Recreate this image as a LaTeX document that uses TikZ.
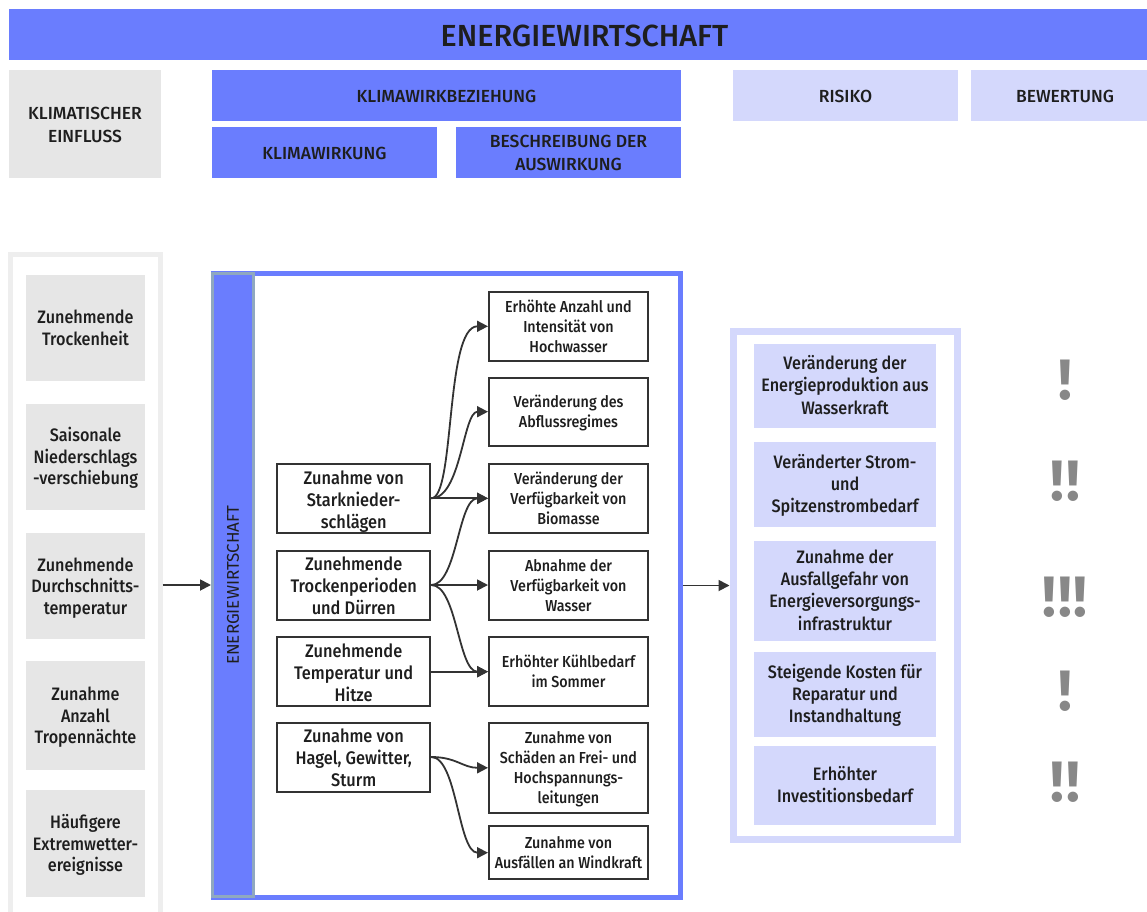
\documentclass[tikz,border=0pt]{standalone}
\usepackage{fontspec}
\setmainfont{Fira Sans}[UprightFont=* Medium, BoldFont=* Bold]
\newfontfamily\plainfont{Fira Sans}
\newfontfamily\bodyfont{Fira Sans}[UprightFont=* Medium, FakeStretch=0.9]
\usetikzlibrary{arrows.meta}

\definecolor{mainblue}{HTML}{6A7DFE}
\definecolor{lilac}{HTML}{D4D8FC}
\definecolor{softgray}{HTML}{E6E6E6}
\definecolor{rimgray}{HTML}{EEEEEE}
\definecolor{bargray}{HTML}{8FA8C0}
\definecolor{ink}{HTML}{1E1E1E}
\definecolor{wire}{HTML}{333333}
\definecolor{markgray}{HTML}{888888}

\newcommand{\fsz}[2]{\fontsize{#1}{#2}\selectfont}

\tikzset{
  every node/.style={text=ink, align=center, inner sep=0pt},
  % line boxes: lead = line pitch, lift = share of a line above its baseline
  lead/.store in=\lead, lift/.store in=\lift, lead=22, lift=.8,
  rows/.style={text height={(#1-1+\lift)*\lead*1pt}, text depth={(1-\lift)*\lead*1pt}},
  headbox/.style={fill=mainblue, minimum height=51, font=\fsz{17.5}{23}, lead=23, lift=.8},
  riskhead/.style={fill=lilac, minimum height=51, font=\fsz{17.5}{23}, lead=23, lift=.8},
  climbox/.style={fill=softgray, minimum width=119, minimum height=106, font=\bodyfont\fsz{18}{21.5}, lead=21.5, lift=.81},
  causebox/.style={draw=wire, line width=2, fill=white, minimum width=153, minimum height=69, font=\bodyfont\fsz{18.2}{22}, lead=22, lift=.86},
  effectbox/.style={draw=wire, line width=2, fill=white, minimum width=159, minimum height=69, font=\bodyfont\fsz{15.9}{20}, lead=20, lift=.8},
  riskbox/.style={fill=lilac, minimum width=182, font=\bodyfont\fsz{18}{22.2}, lead=22.2, lift=.77},
  rating/.style={text=markgray, font=\bfseries\fsz{57}{57}},
  arr/.style={draw=wire, line width=1.8, -{Triangle[length=11pt,width=11pt]}},
}

\begin{document}
\begin{tikzpicture}[x=1pt,y=-1pt]
\clip (0,0) rectangle (1147,911);
\fill[white] (0,0) rectangle (1147,911);

% title bar and column headers
\node[fill=mainblue, minimum width=1151, minimum height=51, text height=24.4, text depth=0, font=\fsz{30.5}{31}] (title) at (584.5,34.5) {ENERGIEWIRTSCHAFT};
\node[fill=softgray, minimum width=152, minimum height=108, font=\fsz{17.5}{23}, lead=23, lift=.8, rows=2] (hclim) at (85,124) {KLIMATISCHER\\EINFLUSS};
\node[headbox, rows=1, minimum width=469] (hrel) at (446.5,95.5) {KLIMAWIRKBEZIEHUNG};
\node[headbox, rows=1, minimum width=225] (hwirk) at (324.5,152.5) {KLIMAWIRKUNG};
\node[headbox, rows=2, minimum width=225] (hbesch) at (568.5,152.5) {BESCHREIBUNG DER\\AUSWIRKUNG};
\node[riskhead, rows=1, minimum width=225] (hrisk) at (845.5,95.5) {RISIKO};
\node[riskhead, rows=1, minimum width=188] (hbew) at (1065,95.5) {BEWERTUNG};

% climatic influences
\node[draw=rimgray, line width=5, fill=white, minimum width=150, minimum height=700] (leftcol) at (85,604) {};
\node[climbox, rows=2] (g1) at (85.5,328) {Zunehmende\\Trockenheit};
\node[climbox, rows=3] (g2) at (85.5,456.5) {Saisonale\\Niederschlags\\-verschiebung};
\node[climbox, rows=3] (g3) at (85.5,586.3) {Zunehmende\\Durchschnitts-\\temperatur};
\node[climbox, rows=3, minimum height=109] (g4) at (85.5,715.5) {Zunahme\\Anzahl\\Tropennächte};
\node[climbox, rows=3, minimum height=107] (g5) at (85.5,843.5) {Häufigere\\Extremwetter-\\ereignisse};

% sector frame
\node[draw=mainblue, line width=5, fill=white, minimum width=467, minimum height=624] (frame) at (447,585.5) {};
\node[draw=bargray, line width=3, fill=mainblue, minimum width=41, minimum height=623] (bar) at (233,585) {};
\node[rotate=90, font=\plainfont\fsz{17}{17}] (bartext) at (bar.center) {ENERGIEWIRTSCHAFT};

% climate effects
\node[causebox, rows=3] (c1) at (353.7,498.3) {Zunahme von\\Starknieder-\\schlägen};
\node[causebox, rows=3] (c2) at (353.7,585) {Zunehmende\\Trockenperioden\\und Dürren};
\node[causebox, rows=3] (c3) at (353.7,671.7) {Zunehmende\\Temperatur und\\Hitze};
\node[causebox, rows=3] (c4) at (353.7,757) {Zunahme von\\Hagel, Gewitter,\\Sturm};

% consequences
\node[effectbox, rows=3] (e1) at (568.5,326.3) {Erhöhte Anzahl und\\Intensität von\\Hochwasser};
\node[effectbox, rows=2, minimum height=68] (e2) at (568.5,411.7) {Veränderung des\\Abflussregimes};
\node[effectbox, rows=3] (e3) at (568.5,498.3) {Veränderung der\\Verfügbarkeit von\\Biomasse};
\node[effectbox, rows=3] (e4) at (568.5,585) {Abnahme der\\Verfügbarkeit von\\Wasser};
\node[effectbox, rows=2] (e5) at (568.5,671.7) {Erhöhter Kühlbedarf\\im Sommer};
\node[effectbox, rows=4, minimum height=90] (e6) at (568.5,767.8) {Zunahme von\\Schäden an Frei- und\\Hochspannungs-\\leitungen};
\node[effectbox, rows=2, minimum height=53] (e7) at (568.5,852.7) {Zunahme von\\Ausfällen an Windkraft};

% risks
\node[draw=lilac, line width=7, fill=white, minimum width=224, minimum height=508] (riskframe) at (845,585) {};
\node[riskbox, rows=3, minimum height=84] (k1) at (845,385.8) {Veränderung der\\Energieproduktion aus\\Wasserkraft};
\node[riskbox, rows=3, minimum height=85] (k2) at (845,484.3) {Veränderter Strom-\\und\\Spitzenstrombedarf};
\node[riskbox, rows=4, minimum height=100] (k3) at (845,590.8) {Zunahme der\\Ausfallgefahr von\\Energieversorgungs-\\infrastruktur};
\node[riskbox, rows=3, minimum height=85] (k4) at (845,694.3) {Steigende Kosten für\\Reparatur und\\Instandhaltung};
\node[riskbox, rows=2, minimum height=79] (k5) at (845,785.3) {Erhöhter\\Investitionsbedarf};

% ratings
\node[rating] (r1) at (1065,380) {!};
\node[rating] (r2) at (1065,481) {!\kern2pt!};
\node[rating] (r3) at (1065,597) {!\kern2pt!\kern2pt!};
\node[rating] (r4) at (1065,691) {!};
\node[rating] (r5) at (1065,782) {!\kern2pt!};

% main flow
\draw[arr] (bar.west -| leftcol.east) -- (bar.west);
\draw[arr] (frame.east) -- (frame.east -| riskframe.west);

% links between effects and consequences
\draw[arr] (c1.east) .. controls +(24,0) and +(-43,0) .. (e1.west);
\draw[arr] (c1.east) .. controls +(30,0) and +(-25,0) .. (e2.west);
\draw[arr] (c1.east) -- (e3.west);
\draw[arr] (c2.east) .. controls +(26,0) and +(-30,0) .. (e3.west);
\draw[arr] (c2.east) -- (e4.west);
\draw[arr] (c2.east) .. controls +(26,0) and +(-30,0) .. (e5.west);
\draw[arr] (c3.east) -- (e5.west);
\draw[arr] (c4.east) .. controls +(25,0) and +(-25,0) .. (e6.west);
\draw[arr] (c4.east) .. controls +(26,0) and +(-30,0) .. (e7.west);
\end{tikzpicture}
\end{document}
